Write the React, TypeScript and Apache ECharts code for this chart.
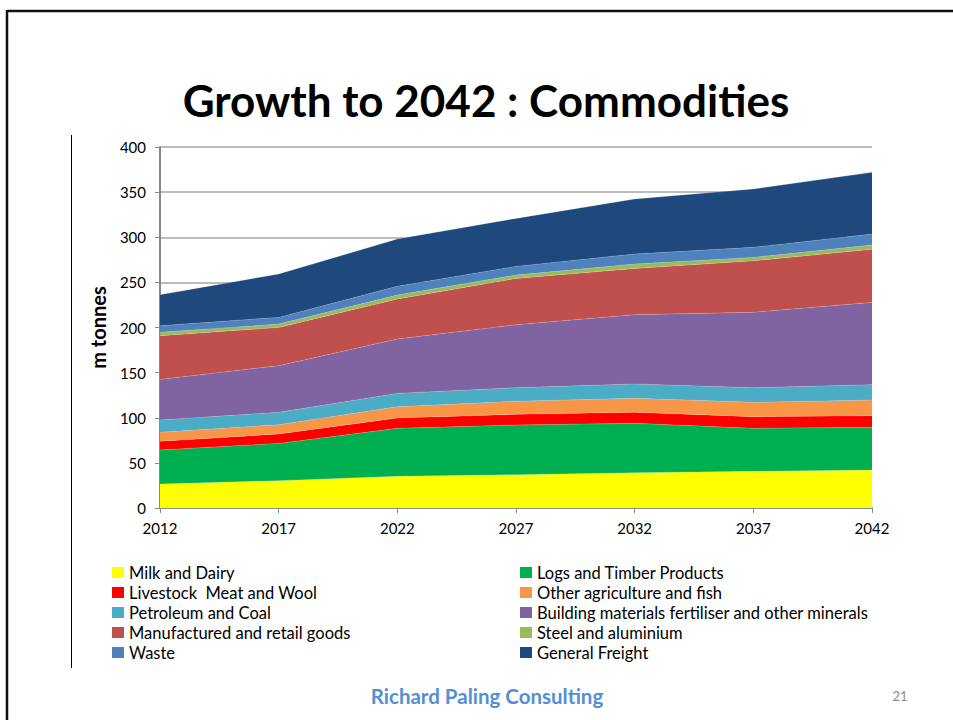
import React, { useEffect, useRef } from "react";
import * as echarts from "echarts";

const years = ["2012", "2017", "2022", "2027", "2032", "2037", "2042"];

const milkDairy = [26.6, 30.3, 35.1, 36.9, 39.1, 40.6, 42.1];
const logsTimber = [37.7, 41.3, 53.2, 55.1, 54.7, 47.7, 47.3];
const livestock = [9.6, 10.4, 11.4, 11.8, 12.2, 12.9, 12.9];
const otherAgri = [9.9, 10.3, 12.6, 14.4, 15.5, 15.9, 17.3];
const petroleum = [13.7, 13.7, 14.7, 15.1, 15.9, 16.2, 17.0];
const building = [45.0, 51.7, 60.2, 69.8, 76.8, 83.5, 91.2];
const manufactured = [48.4, 42.4, 44.3, 51.3, 51.3, 57.2, 58.8];
const steel = [3.7, 3.7, 4.5, 3.7, 4.8, 3.7, 4.8];
const waste = [7.4, 7.4, 9.6, 9.6, 11.1, 11.1, 12.1];
const generalFreight = [34.3, 48.0, 52.4, 53.2, 60.9, 64.6, 68.4];

const seriesDefs = [
  { name: "Milk and Dairy", data: milkDairy, color: "#ffff00" },
  { name: "Logs and Timber Products", data: logsTimber, color: "#00b050" },
  { name: "Livestock  Meat and Wool", data: livestock, color: "#ff0000" },
  { name: "Other agriculture and fish", data: otherAgri, color: "#f79646" },
  { name: "Petroleum and Coal", data: petroleum, color: "#4bacc6" },
  { name: "Building materials fertiliser and other minerals", data: building, color: "#8064a2" },
  { name: "Manufactured and retail goods", data: manufactured, color: "#c0504d" },
  { name: "Steel and aluminium", data: steel, color: "#9bbb59" },
  { name: "Waste", data: waste, color: "#4f81bd" },
  { name: "General Freight", data: generalFreight, color: "#1f497d" },
];

const yTicks = [0, 50, 100, 150, 200, 250, 300, 350, 400];

const FONT = "Lato, 'Open Sans', sans-serif";

export default function App() {
  const ref = useRef<HTMLDivElement>(null);
  useEffect(() => {
    if (!ref.current) return;
    const chart = echarts.init(ref.current, undefined, { renderer: "svg" });
    const leftNames = seriesDefs.filter((_, i) => i % 2 === 0).map((s) => s.name);
    const rightNames = seriesDefs.filter((_, i) => i % 2 === 1).map((s) => s.name);
    const legendCommon = {
      orient: "vertical" as const,
      top: 564,
      padding: 0,
      itemWidth: 12,
      itemHeight: 11,
      itemGap: 3,
      icon: "rect",
      textStyle: { fontFamily: FONT, fontSize: 16.5, color: "#000", lineHeight: 17 },
      selectedMode: false,
    };
    chart.setOption({
      animation: false,
      textStyle: { fontFamily: FONT },
      grid: { left: 160, right: 81, top: 147, bottom: 212, containLabel: false },
      legend: [
        { ...legendCommon, left: 112, data: leftNames },
        { ...legendCommon, left: 520, data: rightNames },
      ],
      xAxis: {
        type: "category",
        data: years,
        boundaryGap: false,
        axisLine: { lineStyle: { color: "#888", width: 2 } },
        axisTick: { show: true, length: 5, lineStyle: { color: "#888" } },
        axisLabel: { fontFamily: FONT, fontSize: 15, color: "#000", margin: 12 },
        splitLine: { show: false },
      },
      yAxis: {
        type: "value",
        min: yTicks[0],
        max: yTicks[yTicks.length - 1],
        interval: 50,
        name: "m tonnes",
        nameLocation: "middle",
        nameGap: 52,
        nameTextStyle: { fontFamily: FONT, fontSize: 20, fontWeight: "bold", color: "#000" },
        axisLine: { show: true, lineStyle: { color: "#888", width: 2 } },
        axisTick: { show: true, length: 5, lineStyle: { color: "#888" } },
        axisLabel: { fontFamily: FONT, fontSize: 15, color: "#000", margin: 14 },
        splitLine: { show: true, lineStyle: { color: "#a6a6a6", width: 1.5 } },
      },
      series: seriesDefs.map((s) => ({
        name: s.name,
        type: "line",
        stack: "total",
        data: s.data,
        symbol: "none",
        showSymbol: false,
        lineStyle: { width: 0.5, color: "rgba(255,255,255,0.35)" },
        itemStyle: { color: s.color },
        areaStyle: { color: s.color, opacity: 1 },
        z: 2,
      })),
      graphic: [
        { type: "line", shape: { x1: 7, y1: 11, x2: 953, y2: 11 }, style: { stroke: "#111", lineWidth: 2.5 } },
        { type: "line", shape: { x1: 7, y1: 10, x2: 7, y2: 720 }, style: { stroke: "#111", lineWidth: 2.5 } },
        { type: "line", shape: { x1: 71.5, y1: 135, x2: 71.5, y2: 668 }, style: { stroke: "#000", lineWidth: 1 } },
        {
          type: "text",
          x: 486,
          y: 100,
          style: {
            text: "Growth to 2042 : Commodities",
            font: "bold 44px " + FONT,
            fill: "#000",
            align: "center",
            verticalAlign: "middle",
          },
        },
        {
          type: "text",
          x: 487,
          y: 696,
          style: {
            text: "Richard Paling Consulting",
            font: "bold 20.5px " + FONT,
            fill: "#558ed5",
            align: "center",
            verticalAlign: "middle",
          },
        },
        {
          type: "text",
          x: 900,
          y: 696,
          style: {
            text: "21",
            font: "13px " + FONT,
            fill: "#8c8c8c",
            align: "center",
            verticalAlign: "middle",
          },
        },
      ],
    });
    return () => chart.dispose();
  }, []);
  return <div ref={ref} style={{ width: 953, height: 720, position: "absolute", left: 0, top: 0, background: "#fff" }} />;
}
